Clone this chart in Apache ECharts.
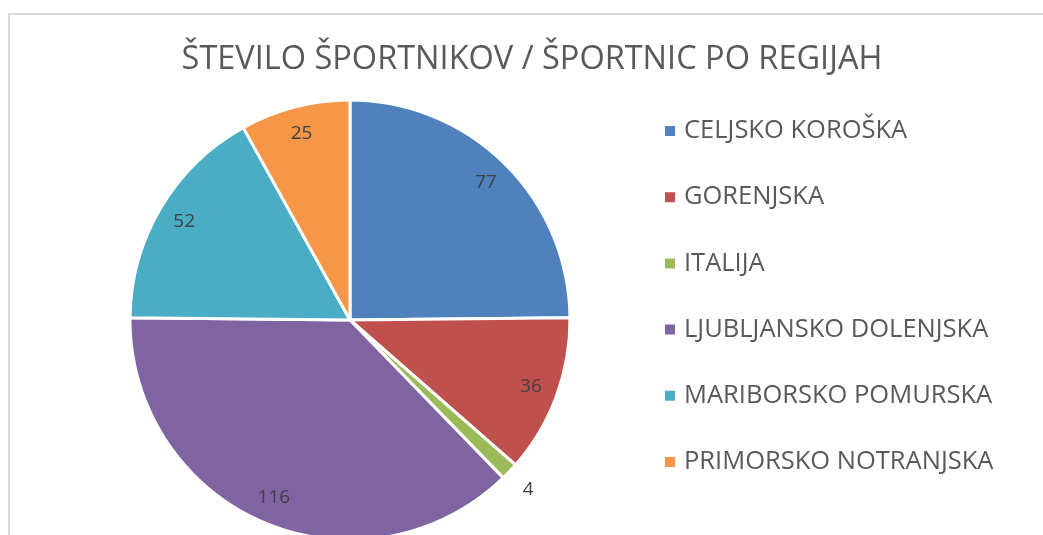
<!DOCTYPE html>
<html>
<head>
<meta charset="utf-8">
<script src="https://cdn.jsdelivr.net/npm/echarts@6/dist/echarts.min.js"></script>
<style>
  html, body { margin: 0; padding: 0; background: #fff; }
  #chart { width: 1043px; height: 535px; }
</style>
</head>
<body>
<div id="chart"></div>
<script>
// Data
const regions = [
  'CELJSKO KOROŠKA',
  'GORENJSKA',
  'ITALIJA',
  'LJUBLJANSKO DOLENJSKA',
  'MARIBORSKO POMURSKA',
  'PRIMORSKO NOTRANJSKA'
]
const athletes = [77, 36, 4, 116, 52, 25]
// slices whose label sits outside the pie
const outsideLabels = ['ITALIJA']

// Colors
const COLORS = ['#4F81BD', '#C0504D', '#9BBB59', '#8064A2', '#4BACC6', '#F79646']
const TEXT_COLOR = '#595959'
const LABEL_COLOR = '#404040'
const FONT = '"Open Sans", "Noto Sans", sans-serif'

const CENTER = [350, 320]
const R = 220

const chart = echarts.init(document.getElementById('chart'))

const pieData = regions.map((name, i) => ({ name, value: athletes[i] }))

chart.setOption({
  animation: false,
  color: COLORS,
  title: {
    text: 'ŠTEVILO ŠPORTNIKOV / ŠPORTNIC PO REGIJAH',
    left: 527,
    textAlign: 'center',
    top: 38,
    textStyle: { color: TEXT_COLOR, fontFamily: FONT, fontSize: 32.5, fontWeight: 'normal' },
  },
  legend: {
    orient: 'vertical',
    left: 663,
    top: 118,
    padding: 0,
    icon: 'rect',
    itemWidth: 12,
    itemHeight: 12,
    itemGap: 40.2,
    selectedMode: false,
    data: regions,
    textStyle: {
      color: TEXT_COLOR,
      fontFamily: FONT,
      fontSize: 25.5,
      lineHeight: 26,
      padding: [0, 0, 0, 3],
    },
  },
  graphic: [
    {
      type: 'rect',
      silent: true,
      shape: { x: 9, y: 14, width: 1200, height: 700 },
      style: { fill: 'none', stroke: '#d9d9d9', lineWidth: 2 },
    },
  ],
  series: [
    {
      name: 'slices',
      type: 'pie',
      center: CENTER,
      radius: [0, R],
      startAngle: 90,
      clockwise: true,
      silent: true,
      itemStyle: { borderColor: '#fff', borderWidth: 3 },
      label: { show: false },
      labelLine: { show: false },
      data: pieData,
    },
    {
      // inside labels, placed near the rim
      name: 'labels-inside',
      type: 'pie',
      center: CENTER,
      radius: [161, 219],
      startAngle: 90,
      clockwise: true,
      silent: true,
      legendHoverLink: false,
      itemStyle: { color: 'rgba(0,0,0,0)' },
      label: {
        show: true,
        position: 'inside',
        formatter: (p) => (outsideLabels.includes(p.name) ? '' : String(p.value)),
        color: LABEL_COLOR,
        fontFamily: FONT,
        fontSize: 19,
      },
      labelLine: { show: false },
      data: pieData,
    },
    {
      // outside labels for thin slices
      name: 'labels-outside',
      type: 'pie',
      center: CENTER,
      radius: [231, 255],
      startAngle: 90,
      clockwise: true,
      silent: true,
      legendHoverLink: false,
      itemStyle: { color: 'rgba(0,0,0,0)' },
      label: {
        show: true,
        position: 'inside',
        formatter: (p) => (outsideLabels.includes(p.name) ? String(p.value) : ''),
        color: LABEL_COLOR,
        fontFamily: FONT,
        fontSize: 19,
      },
      labelLine: { show: false },
      data: pieData,
    },
  ],
})
</script>
</body>
</html>
